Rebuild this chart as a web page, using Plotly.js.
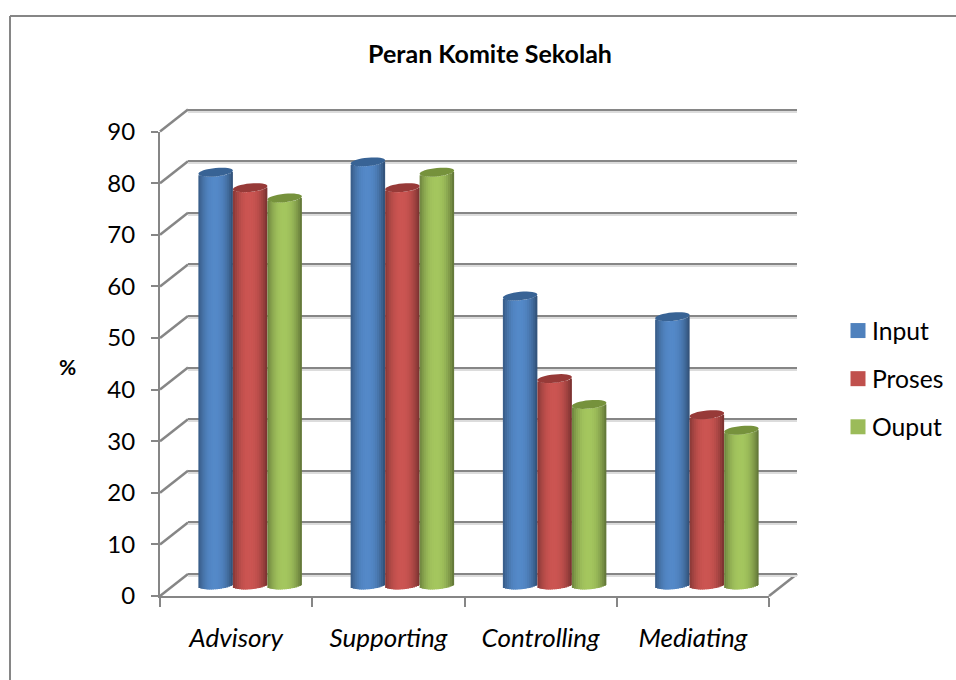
<!DOCTYPE html>
<html>
<head>
<meta charset="utf-8">
<script src="https://cdn.plot.ly/plotly-3.0.0.min.js"></script>
<style>html,body{margin:0;padding:0;background:#fff;overflow:hidden}</style>
</head>
<body>
<div id="chart" style="width:956px;height:680px"></div>
<script>
const categories = ["Advisory", "Supporting", "Controlling", "Mediating"];
const input = [80, 82, 56, 52];
const proses = [77, 77, 40, 33];
const ouput = [75, 80, 35, 30];
const seriesNames = ["Input", "Proses", "Ouput"];
const seriesColors = ["#4F81BD", "#C0504D", "#9BBB59"];
const capColors = ["#386395", "#973A38", "#76923C"];
const yTicks = [0, 10, 20, 30, 40, 50, 60, 70, 80, 90];

const W = 956, H = 680, FONT = "Lato, Carlito, sans-serif", GRID = "#868686";
const px = v => v / W, py = v => 1 - v / H;
const UNIT = 5.16, DEPTH_X = 28, DEPTH_Y = 22;
const FX0 = 160, FX1 = 769, FY0 = 596;
const FYT = FY0 - 90 * UNIT;
const BAR_W = 0.2266, STRIPS = 17, CAP_RY = 4.2, CAP_TILT = 1.6;
const series = [input, proses, ouput];

function rgbOf(hex) { return [1, 3, 5].map(i => parseInt(hex.substr(i, 2), 16)); }
function shade(hex, t) {
  const f = 0.6 + 0.46 * (1 - Math.pow(Math.abs(t + 0.05) / 1.05, 2.2));
  return "rgb(" + rgbOf(hex).map(c => Math.min(255, Math.round(c * f))).join(",") + ")";
}

const traces = [];
// legend entries live on the front plane and also anchor its category axis
seriesNames.forEach((name, s) => traces.push({
  type: "scatter", mode: "markers", name: name, x: categories, y: categories.map(() => null),
  xaxis: "x", yaxis: "y", legendgroup: name, showlegend: true, hoverinfo: "skip",
  marker: { symbol: "square", size: 15, color: seriesColors[s] }
}));
// wall planes anchors (grid shadow, grid)
["2", "3"].forEach(n => traces.push({ type: "scatter", mode: "markers", x: categories, y: categories.map(() => null),
  xaxis: "x" + n, yaxis: "y" + n, showlegend: false, hoverinfo: "skip" }));
// cylinders: each one is built out of narrow shaded bars, painted left to right
series.forEach((vals, s) => {
  for (let i = 0; i < STRIPS; i++) {
    const t = ((i + 0.5) / STRIPS) * 2 - 1;
    const lift = (-CAP_RY * Math.sqrt(1 - t * t) + CAP_TILT * t) / UNIT;
    const step = BAR_W / STRIPS;
    traces.push({
      type: "bar", x: categories, y: vals, base: categories.map(() => lift),
      xaxis: "x4", yaxis: "y4", showlegend: false, name: seriesNames[s],
      width: i === STRIPS - 1 ? step : step * 1.7,
      offset: (s - 1) * BAR_W - BAR_W / 2 + i * step,
      marker: { color: shade(seriesColors[s], t), line: { width: 0 } },
      hoverinfo: "skip"
    });
  }
});

const shapes = [];
const frame = { type: "line", xref: "paper", yref: "paper", line: { color: GRID, width: 2 } };
shapes.push(Object.assign({}, frame, { x0: px(10), x1: 1, y0: py(16), y1: py(16) }));
shapes.push(Object.assign({}, frame, { x0: px(10), x1: px(10), y0: py(16), y1: 0 }));
yTicks.forEach(v => {
  const y = FY0 - v * UNIT;
  shapes.push({ type: "line", layer: "below", xref: "paper", yref: "paper",
    x0: px(FX0), x1: px(FX0 + DEPTH_X), y0: py(y), y1: py(y - DEPTH_Y),
    line: { color: GRID, width: 2.5 } });
});
shapes.push({ type: "line", layer: "below", xref: "paper", yref: "paper",
  x0: px(FX1), x1: px(FX1 + DEPTH_X), y0: py(FY0), y1: py(FY0 - DEPTH_Y),
  line: { color: GRID, width: 2.5 } });
// cylinder caps
function capPath() {
  const rx = BAR_W * (FX1 - FX0) / 4 / 2, pts = [];
  for (let a = 0; a < 32; a++) {
    const th = a / 32 * 2 * Math.PI;
    pts.push((a ? "L" : "M") + (rx * Math.cos(th)).toFixed(2) + " " +
      (CAP_RY * Math.sin(th) + CAP_TILT * Math.cos(th)).toFixed(2));
  }
  return pts.join(" ") + " Z";
}
series.forEach((vals, s) => vals.forEach((v, c) => {
  shapes.push({ type: "path", xref: "x4", yref: "y4", xsizemode: "pixel", ysizemode: "pixel",
    xanchor: c + (s - 1) * BAR_W, yanchor: v, path: capPath(),
    fillcolor: capColors[s], line: { width: 0 } });
}));

const hidden = { showticklabels: false, ticks: "", showline: false, zeroline: false, fixedrange: true };
const wallY = (shift, color, anchor) => Object.assign({
  domain: [py(FY0 - DEPTH_Y + shift + 2 * UNIT), py(FYT - DEPTH_Y + shift - 2 * UNIT)],
  range: [-2, 92], tickvals: yTicks, anchor: anchor, showgrid: true, gridcolor: color, gridwidth: 2 }, hidden);
const wallX = anchor => Object.assign({ domain: [px(FX0 + DEPTH_X), px(FX1 + DEPTH_X)], type: "category",
  categoryarray: categories, range: [-0.5, 3.5], anchor: anchor, showgrid: false }, hidden);
const layout = {
  width: W, height: H, margin: { l: 0, r: 0, t: 0, b: 0 },
  paper_bgcolor: "#fff", plot_bgcolor: "rgba(0,0,0,0)",
  font: { family: FONT, color: "#000", size: 24 },
  barmode: "overlay", showlegend: true,
  title: { text: "<b>Peran Komite Sekolah</b>", font: { family: FONT, size: 25, color: "#000" },
    x: 490 / W, xanchor: "center", y: py(54), yanchor: "middle" },
  legend: { x: px(832), xanchor: "left", y: py(308), yanchor: "top", bgcolor: "rgba(0,0,0,0)",
    font: { family: FONT, size: 24.7, color: "#000" }, tracegroupgap: 13, itemwidth: 30, itemclick: false },
  xaxis: { domain: [px(FX0), px(FX1)], type: "category", categoryorder: "array", categoryarray: categories,
    range: [-0.5, 3.5], anchor: "y", showgrid: false, zeroline: false, showline: true, linecolor: GRID, linewidth: 2,
    ticks: "outside", ticklen: 9, tickwidth: 2, tickcolor: GRID, tickson: "boundaries",
    tickfont: { family: FONT, size: 26, style: "italic" }, ticklabelstandoff: 18, fixedrange: true },
  yaxis: { domain: [py(FY0), py(FYT)], range: [0, 90], tickvals: yTicks, anchor: "x", showgrid: false, zeroline: false,
    showline: true, linecolor: GRID, linewidth: 2, ticks: "outside", ticklen: 7, tickwidth: 2, tickcolor: GRID,
    tickfont: { family: FONT, size: 24 }, ticklabelstandoff: 11, fixedrange: true },
  xaxis2: wallX("y2"), yaxis2: wallY(2, "#DCDCDC", "x2"),
  xaxis3: wallX("y3"), yaxis3: wallY(0, GRID, "x3"),
  xaxis4: Object.assign({ domain: [px(FX0 + 14), px(FX1 + 14)], type: "category", categoryarray: categories,
    range: [-0.5, 3.5], anchor: "y4", showgrid: false }, hidden),
  yaxis4: Object.assign({ domain: [py(585 + 3 * UNIT), py(585 - 90 * UNIT)], range: [-3, 90], anchor: "x4",
    showgrid: false }, hidden),
  shapes: shapes,
  annotations: [{ text: "<b>%</b>", xref: "paper", yref: "paper", x: px(67), y: py(366), showarrow: false,
    xanchor: "center", yanchor: "middle", font: { family: FONT, size: 21, color: "#000" } }]
};
Plotly.newPlot("chart", traces, layout, { displayModeBar: false, responsive: false }).then(() => {
  document.querySelectorAll("#chart .legendsymbols").forEach(g => g.setAttribute("transform", "translate(6,0)"));
});
</script>
</body>
</html>
